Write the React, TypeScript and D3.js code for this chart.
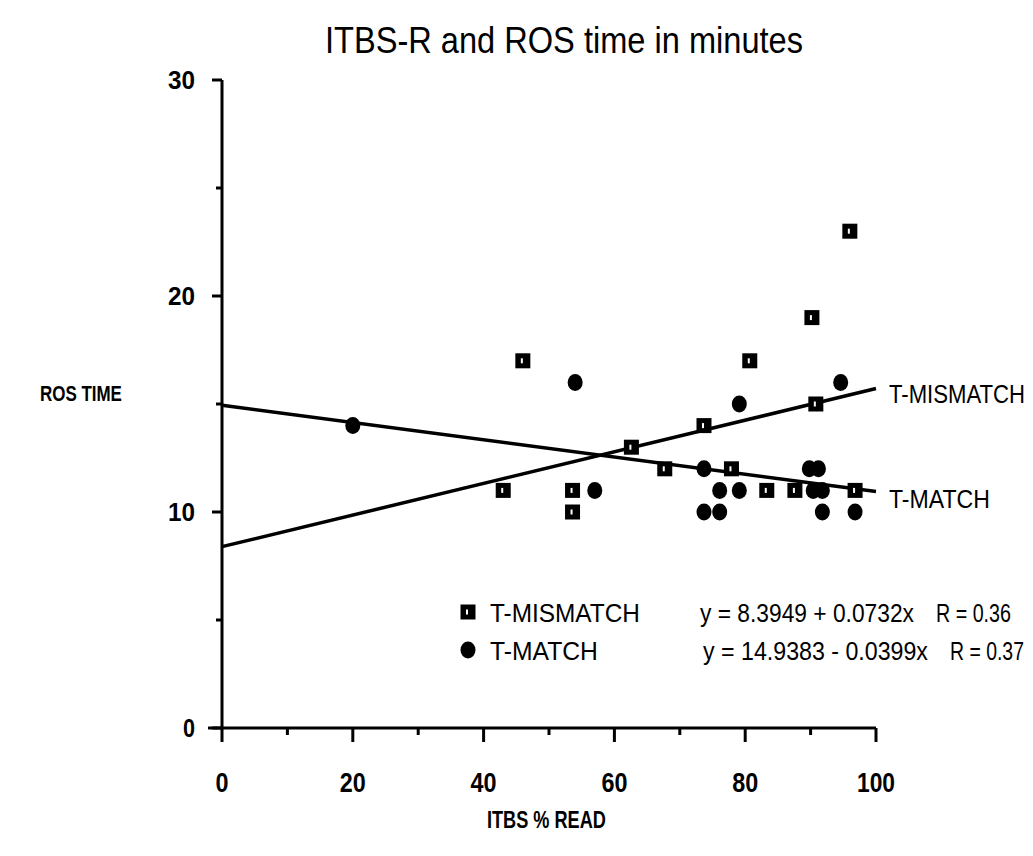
import React, { useLayoutEffect, useRef, useState } from "react";
import * as d3 from "d3";

// T-MISMATCH (squares)
const mismatchX = [43, 46, 53.6, 53.6, 62.6, 67.7, 73.7, 77.9, 80.7, 83.3, 87.6, 90.2, 90.8, 96, 96.8];
const mismatchY = [11, 17, 11, 10, 13, 12, 14, 12, 17, 11, 11, 19, 15, 23, 11];

// T-MATCH (circles)
const matchX = [20, 54, 57, 73.7, 73.7, 76.1, 76.1, 79.1, 79.1, 89.8, 91.2, 90.4, 91.8, 91.8, 94.6, 96.8];
const matchY = [14, 16, 11, 12, 10, 11, 10, 15, 11, 12, 12, 11, 11, 10, 16, 10];

const fits = [
  { name: "T-MISMATCH", a: 8.3949, b: 0.0732, r: "0.36" },
  { name: "T-MATCH", a: 14.9383, b: -0.0399, r: "0.37" },
];

const xTicks = [0, 20, 40, 60, 80, 100];
const yTicks = [0, 10, 20, 30];

const font = "'Liberation Sans', Arial, sans-serif";

// narrow text: measures the text and squeezes it horizontally to width w
function N(p: { x: number; y: number; w: number; size: number; bold?: boolean; anchor?: string; children: string }) {
  const ref = useRef<SVGTextElement>(null);
  const [sx, setSx] = useState(1);
  useLayoutEffect(() => {
    if (ref.current) {
      const len = ref.current.getComputedTextLength();
      if (len > 0) setSx(p.w / len);
    }
  }, [p.w, p.size, p.children]);
  return (
    <text
      ref={ref}
      transform={`translate(${p.x},${p.y}) scale(${sx},1)`}
      textAnchor={p.anchor || "start"}
      fontFamily={font}
      fontSize={p.size}
      fontWeight={p.bold ? "bold" : "normal"}
      fill="#000"
    >
      {p.children}
    </text>
  );
}

export default function App() {
  const width = 1033;
  const height = 856;
  const x = d3.scaleLinear().domain([0, 100]).range([222, 876]);
  const y = d3.scaleLinear().domain([0, 30]).range([728, 80]);

  const fitLine = (a: number, b: number) =>
    d3.line<number>().x((v) => x(v)).y((v) => y(a + b * v))([0, 100]) || "";

  const mismatch = mismatchX.map((v, i) => [v, mismatchY[i]]);
  const match = matchX.map((v, i) => [v, matchY[i]]);

  const Square = ({ cx, cy }: { cx: number; cy: number }) => (
    <g>
      <rect x={cx - 7.5} y={cy - 7.5} width={15} height={15} fill="#000" />
      <rect x={cx - 2} y={cy - 2.5} width={2} height={5} fill="#fff" />
    </g>
  );

  return (
    <svg width={width} height={height} style={{ position: "absolute", left: 0, top: 0, background: "#fff" }}>
      <rect width={width} height={height} fill="#fff" />
      <N x={564} y={53} w={478} size={36} anchor="middle">ITBS-R and ROS time in minutes</N>

      {/* axes */}
      <line x1={x(0)} y1={y(30)} x2={x(0)} y2={y(0) + 14} stroke="#000" strokeWidth={3} />
      <line x1={x(0) - 14} y1={y(0)} x2={x(100)} y2={y(0)} stroke="#000" strokeWidth={3} />
      {d3.range(0, 31, 5).map((t) => (
        <line key={"yt" + t} x1={x(0) - (t % 10 === 0 ? 10 : 6)} y1={y(t)} x2={x(0)} y2={y(t)} stroke="#000" strokeWidth={3} />
      ))}
      {d3.range(10, 101, 10).map((t) => (
        <line key={"xt" + t} x1={x(t)} y1={y(0)} x2={x(t)} y2={y(0) + (t % 20 === 0 ? 14 : 7)} stroke="#000" strokeWidth={3} />
      ))}
      {yTicks.map((t) => (
        <N key={"yl" + t} x={x(0) - 27} y={y(t) + 9} w={t === 0 ? 12 : 27} size={26} bold anchor="end">
          {String(t)}
        </N>
      ))}
      {xTicks.map((t) => (
        <N key={"xl" + t} x={x(t)} y={y(0) + 64} w={t === 0 ? 13 : t === 100 ? 38 : 26} size={28} bold anchor="middle">
          {String(t)}
        </N>
      ))}

      <N x={40} y={401} w={82} size={23} bold>ROS TIME</N>
      <N x={487} y={828} w={119} size={23} bold>ITBS % READ</N>

      {/* regression lines */}
      {fits.map((f) => (
        <path key={f.name} d={fitLine(f.a, f.b)} stroke="#000" strokeWidth={3.5} fill="none" />
      ))}
      <N x={889} y={403} w={136} size={25}>T-MISMATCH</N>
      <N x={889} y={508} w={101} size={25}>T-MATCH</N>

      {/* points */}
      {mismatch.map((p, i) => (
        <Square key={"s" + i} cx={x(p[0])} cy={y(p[1])} />
      ))}
      {match.map((p, i) => (
        <ellipse key={"c" + i} cx={x(p[0])} cy={y(p[1])} rx={7.5} ry={8.5} fill="#000" />
      ))}

      {/* legend */}
      <Square cx={468} cy={612} />
      <ellipse cx={468} cy={650} rx={7.5} ry={8.5} fill="#000" />
      <N x={490} y={622} w={150} size={25}>{fits[0].name}</N>
      <N x={490} y={660} w={108} size={25}>{fits[1].name}</N>
      <N x={700} y={622} w={214} size={25}>{`y = ${fits[0].a} + ${fits[0].b}x`}</N>
      <N x={936} y={622} w={75} size={25}>{`R = ${fits[0].r}`}</N>
      <N x={703} y={660} w={225} size={25}>{`y = ${fits[1].a} - ${Math.abs(fits[1].b)}x`}</N>
      <N x={950} y={660} w={74} size={25}>{`R = ${fits[1].r}`}</N>
    </svg>
  );
}
